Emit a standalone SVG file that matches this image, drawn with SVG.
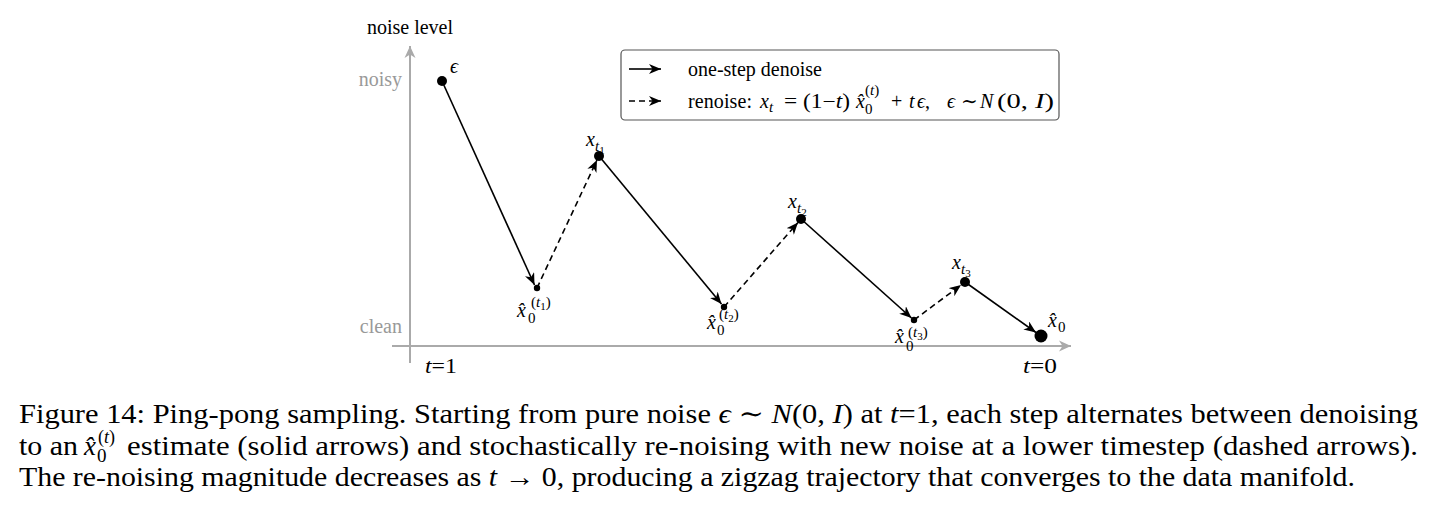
<svg xmlns="http://www.w3.org/2000/svg" width="1435" height="521" viewBox="0 0 1435 521">
<style>
text{font-family:"Liberation Serif","DejaVu Serif",serif;fill:#000}
.lbl{font-size:20px}
.gray{fill:#999}
.m{font-style:italic}
.ml{font-size:20px;font-style:italic}
.sub{font-size:15px;font-style:italic}
.up{font-size:15px}
.sub2{font-size:11px;font-style:normal}
.cap{font-size:27px}
.axis{stroke:#aaa;stroke-width:2;fill:none}
.solid{stroke:#000;stroke-width:1.6;fill:none}
.dash{stroke:#000;stroke-width:1.6;fill:none;stroke-dasharray:6 4}
</style>
<defs>
<marker id="ah" markerUnits="userSpaceOnUse" markerWidth="14" markerHeight="10" refX="12" refY="5" orient="auto" viewBox="0 0 14 10">
<path d="M0,0 L12,5 L0,10 L3.5,5 z" fill="#000"/>
</marker>
<marker id="ga" markerUnits="userSpaceOnUse" markerWidth="14" markerHeight="12" refX="12" refY="6" orient="auto" viewBox="0 0 14 12">
<path d="M0,0.5 L12,6 L0,11.5 L3.5,6 z" fill="#aaa"/>
</marker>
</defs>

<g id="axes">
<line class="axis" x1="410" y1="363" x2="410" y2="46" marker-end="url(#ga)"/>
<line class="axis" x1="392" y1="346" x2="1071" y2="346" marker-end="url(#ga)"/>
<text class="lbl" x="410" y="34" text-anchor="middle">noise level</text>
<text class="lbl gray" x="402" y="86" text-anchor="end">noisy</text>
<text class="lbl gray" x="402" y="333" text-anchor="end">clean</text>
<text class="lbl" x="425" y="373" textLength="32" lengthAdjust="spacingAndGlyphs"><tspan class="m">t</tspan>=1</text>
<text class="lbl" x="1023" y="373" textLength="34" lengthAdjust="spacingAndGlyphs"><tspan class="m">t</tspan>=0</text>
</g>

<g id="legend">
<rect x="621" y="50" width="438" height="70" rx="4" fill="#fff" stroke="#555" stroke-width="1.2"/>
<line class="solid" x1="629" y1="69" x2="661" y2="69" marker-end="url(#ah)"/>
<line class="dash" x1="629" y1="101" x2="661" y2="101" marker-end="url(#ah)"/>
<text class="lbl" x="688" y="76">one-step denoise</text>
<text class="lbl" x="688" y="108" textLength="64">renoise:</text>
<text class="ml" x="760" y="108">x</text>
<text class="sub" x="769" y="112">t</text>
<text class="lbl" x="784" y="108" textLength="66" lengthAdjust="spacingAndGlyphs">= (1−<tspan class="m">t</tspan>)</text>
<text class="ml" x="856" y="108">x̂</text>
<text class="up" x="865" y="114">0</text>
<text class="up" x="865" y="95">(<tspan class="m">t</tspan>)</text>
<text class="lbl" x="891" y="108">+</text>
<text class="ml" x="909" y="108">t</text>
<text class="ml" x="917" y="108">ϵ<tspan style="font-style:normal">,</tspan></text>
<text class="ml" x="947" y="108">ϵ</text>
<text class="lbl" x="961" y="108">∼</text>
<text class="ml" x="980" y="108">N</text>
<text style="font-size:21px" x="997" y="108" textLength="57" lengthAdjust="spacingAndGlyphs">(0, <tspan class="m">I</tspan>)</text>
</g>

<g id="connectors">
<line class="solid" x1="442" y1="81" x2="534.5" y2="285" marker-end="url(#ah)"/>
<line class="dash" x1="537" y1="288" x2="597" y2="160" marker-end="url(#ah)"/>
<line class="solid" x1="599" y1="156" x2="721.5" y2="304" marker-end="url(#ah)"/>
<line class="dash" x1="724" y1="307" x2="798" y2="222.5" marker-end="url(#ah)"/>
<line class="solid" x1="801" y1="219" x2="911.5" y2="318" marker-end="url(#ah)"/>
<line class="dash" x1="914" y1="320" x2="961" y2="285" marker-end="url(#ah)"/>
<line class="solid" x1="965" y1="282" x2="1036" y2="332.5" marker-end="url(#ah)"/>
</g>

<g id="n-eps">
<circle cx="442" cy="81" r="5" fill="#000"/>
<text class="ml" x="450" y="73">ϵ</text>
</g>
<g id="n-x0t1">
<circle cx="537" cy="288" r="3.2" fill="#000"/>
<text class="ml" x="517" y="317">x̂</text>
<text class="up" x="528" y="323">0</text>
<text class="up" x="531" y="307">(<tspan class="m">t</tspan><tspan class="sub2" dy="3">1</tspan><tspan dy="-3">)</tspan></text>
</g>
<g id="n-xt1">
<circle cx="599" cy="156" r="5" fill="#000"/>
<text class="ml" x="586" y="146">x</text>
<text class="sub" x="595" y="151">t<tspan class="sub2" dy="3">1</tspan></text>
</g>
<g id="n-x0t2">
<circle cx="724" cy="307" r="3.2" fill="#000"/>
<text class="ml" x="707" y="329">x̂</text>
<text class="up" x="717" y="335">0</text>
<text class="up" x="719" y="319">(<tspan class="m">t</tspan><tspan class="sub2" dy="3">2</tspan><tspan dy="-3">)</tspan></text>
</g>
<g id="n-xt2">
<circle cx="801" cy="219" r="5" fill="#000"/>
<text class="ml" x="788" y="208">x</text>
<text class="sub" x="797" y="213">t<tspan class="sub2" dy="3">2</tspan></text>
</g>
<g id="n-x0t3">
<circle cx="914" cy="320" r="3.2" fill="#000"/>
<text class="ml" x="895" y="343">x̂</text>
<text class="up" x="906" y="351">0</text>
<text class="up" x="908" y="337">(<tspan class="m">t</tspan><tspan class="sub2" dy="3">3</tspan><tspan dy="-3">)</tspan></text>
</g>
<g id="n-xt3">
<circle cx="965" cy="282" r="5" fill="#000"/>
<text class="ml" x="952" y="269">x</text>
<text class="sub" x="961" y="274">t<tspan class="sub2" dy="3">3</tspan></text>
</g>
<g id="n-x0">
<circle cx="1041" cy="336" r="6.5" fill="#000"/>
<text class="ml" x="1048" y="327">x̂</text>
<text class="up" x="1058" y="332">0</text>
</g>

<g id="caption">
<text class="cap" x="19" y="423" textLength="1399" lengthAdjust="spacingAndGlyphs">Figure 14: Ping-pong sampling. Starting from pure noise <tspan class="m">ϵ</tspan> ∼ <tspan class="m">N</tspan>(0, <tspan class="m">I</tspan>) at <tspan class="m">t</tspan>=1, each step alternates between denoising</text>
<text class="cap" x="19" y="455" textLength="59" lengthAdjust="spacingAndGlyphs">to an</text>
<text class="cap m" x="84" y="455">x̂</text>
<text class="cap" x="97" y="462" style="font-size:19px">0</text>
<text class="cap" x="98" y="443" style="font-size:18px">(<tspan class="m">t</tspan>)</text>
<text class="cap" x="127" y="455" textLength="1291" lengthAdjust="spacingAndGlyphs">estimate (solid arrows) and stochastically re-noising with new noise at a lower timestep (dashed arrows).</text>
<text class="cap" x="19" y="486" textLength="1336" lengthAdjust="spacingAndGlyphs">The re-noising magnitude decreases as <tspan class="m">t</tspan> → 0, producing a zigzag trajectory that converges to the data manifold.</text>
</g>
</svg>
